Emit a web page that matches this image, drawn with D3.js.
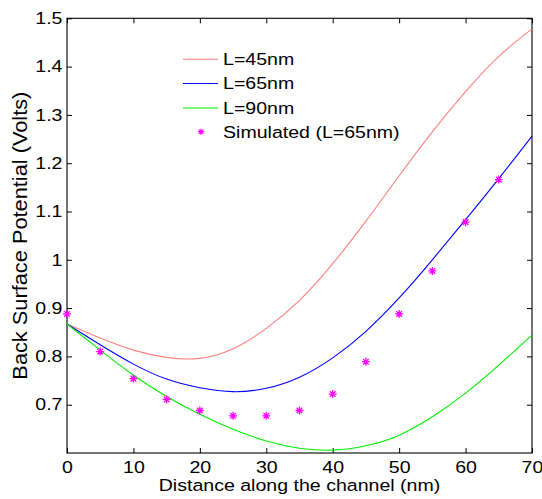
<!DOCTYPE html>
<html>
<head>
<meta charset="utf-8">
<script src="https://cdn.jsdelivr.net/npm/d3@7"></script>
<style>
body { margin: 0; background: #fff; }
text { font-family: "Liberation Sans", Arial, sans-serif; }
</style>
</head>
<body>
<svg width="542" height="499"></svg>
<script>
// model curves, sampled every 5 nm
var distance = [0, 5, 10, 15, 20, 25, 30, 35, 40, 45, 50, 55, 60, 65, 70];
var potL45 = [0.867, 0.838, 0.813, 0.798, 0.796, 0.816, 0.858, 0.916, 0.992, 1.080, 1.174, 1.265, 1.348, 1.421, 1.478];
var potL65 = [0.867, 0.824, 0.784, 0.753, 0.735, 0.727, 0.734, 0.757, 0.797, 0.852, 0.921, 1.000, 1.083, 1.168, 1.256];
var potL90 = [0.867, 0.813, 0.761, 0.717, 0.680, 0.649, 0.625, 0.610, 0.606, 0.615, 0.637, 0.675, 0.724, 0.782, 0.844];

// simulated points (L=65nm)
var simDistance = [0, 5, 10, 15, 20, 25, 30, 35, 40, 45, 50, 55, 60, 65];
var simPot = [0.888, 0.810, 0.754, 0.711, 0.688, 0.677, 0.677, 0.688, 0.722, 0.789, 0.888, 0.977, 1.078, 1.166];

var xTicks = [0, 10, 20, 30, 40, 50, 60, 70];
var yTicks = [0.7, 0.8, 0.9, 1.0, 1.1, 1.2, 1.3, 1.4, 1.5];

var seriesNames = ["L=45nm", "L=65nm", "L=90nm"];
var seriesColors = ["#ff8080", "#0000ff", "#00ee00"];
var simName = "Simulated (L=65nm)";
var simColor = "#ff00ff";

var svg = d3.select("svg"),
	plotL = 67, plotR = 532, plotT = 18.3, plotB = 453,
	fs = 16.3,      // font size
	sx = 1.2;       // the original text is a bit wider than it is tall

var x = d3.scaleLinear().domain([0, 70]).range([plotL, plotR]);
var y = d3.scaleLinear().domain([0.6, 1.5]).range([plotB, plotT]);

// axes, ticks pointing inward like matlab
svg.append("g")
	.attr("transform", "translate(0," + plotB + ")")
	.call(d3.axisBottom(x).tickValues(xTicks).tickSize(-5).tickSizeOuter(0).tickPadding(8).tickFormat(d3.format("d")))
	.call(function (g) { g.select(".domain").remove(); })
	.selectAll(".tick text").attr("transform", "scale(" + sx + ",1)");

svg.append("g")
	.attr("transform", "translate(0," + plotT + ")")
	.call(d3.axisTop(x).tickValues(xTicks).tickSize(-5).tickSizeOuter(0).tickFormat(""))
	.call(function (g) { g.select(".domain").remove(); });

svg.append("g")
	.attr("transform", "translate(" + plotL + ",0)")
	.call(d3.axisLeft(y).tickValues(yTicks).tickSize(-5).tickSizeOuter(0)
		.tickFormat(function (d) { return d === 1 ? "1" : d3.format(".1f")(d); }))
	.call(function (g) { g.select(".domain").remove(); })
	.selectAll(".tick text")
	.attr("x", -4.5 / sx)
	.attr("transform", "scale(" + sx + ",1)");

svg.append("g")
	.attr("transform", "translate(" + plotR + ",0)")
	.call(d3.axisRight(y).tickValues(yTicks).tickSize(-5).tickSizeOuter(0).tickFormat(""))
	.call(function (g) { g.select(".domain").remove(); });

svg.selectAll(".tick line").attr("stroke", "#000");
svg.selectAll(".tick text").attr("font-size", fs).attr("fill", "#000")
	.style("font-family", "'Liberation Sans', Arial, sans-serif");

svg.append("rect")
	.attr("x", plotL).attr("y", plotT)
	.attr("width", plotR - plotL).attr("height", plotB - plotT)
	.attr("fill", "none").attr("stroke", "#000").attr("stroke-width", 1.1);

// curves
var line = d3.line()
	.x(function (d) { return x(d[0]); })
	.y(function (d) { return y(d[1]); })
	.curve(d3.curveNatural);

[potL45, potL65, potL90].forEach(function (vals, i) {
	svg.append("path")
		.datum(distance.map(function (d, j) { return [d, vals[j]]; }))
		.attr("d", line)
		.attr("fill", "none")
		.attr("stroke", seriesColors[i])
		.attr("stroke-width", 1.1);
});

// asterisk marker: plus + cross
var star = function (s) {
	var a = s * 0.7;
	return "M" + (-s) + ",0H" + s + "M0," + (-s) + "V" + s +
		"M" + (-a) + "," + (-a) + "L" + a + "," + a +
		"M" + (-a) + "," + a + "L" + a + "," + (-a);
};

svg.selectAll(".sim")
	.data(simDistance.map(function (d, j) { return [d, simPot[j]]; }))
	.enter()
	.append("path")
	.attr("class", "sim")
	.attr("transform", function (d) { return "translate(" + x(d[0]) + "," + y(d[1]) + ")"; })
	.attr("d", star(4))
	.attr("stroke", simColor)
	.attr("stroke-width", 1.3)
	.attr("fill", "none");

// legend
var legY = [59.3, 83.5, 108, 131.7];
var leg = svg.append("g");
var legText = function (yy, s) {
	leg.append("text")
		.attr("transform", "translate(223," + yy + ") scale(" + sx + ",1)")
		.attr("dy", "0.36em")
		.attr("font-size", fs).text(s);
};
seriesNames.forEach(function (name, i) {
	leg.append("line")
		.attr("x1", 183).attr("x2", 218)
		.attr("y1", legY[i]).attr("y2", legY[i])
		.attr("stroke", seriesColors[i]).attr("stroke-width", 1.1);
	legText(legY[i], name);
});
leg.append("path")
	.attr("transform", "translate(201," + legY[3] + ")")
	.attr("d", star(3))
	.attr("stroke", simColor).attr("stroke-width", 1.2).attr("fill", "none");
legText(legY[3], simName);

// axis labels
svg.append("text")
	.attr("transform", "translate(" + ((plotL + plotR) / 2) + ",491) scale(" + sx + ",1)")
	.attr("text-anchor", "middle").attr("font-size", fs)
	.text("Distance along the channel (nm)");

svg.append("text")
	.attr("transform", "translate(27," + ((plotT + plotB) / 2) + ") scale(" + sx + ",1) rotate(-90)")
	.attr("text-anchor", "middle").attr("font-size", fs)
	.attr("textLength", 288).attr("lengthAdjust", "spacingAndGlyphs")
	.text("Back Surface Potential (Volts)");
</script>
</body>
</html>
